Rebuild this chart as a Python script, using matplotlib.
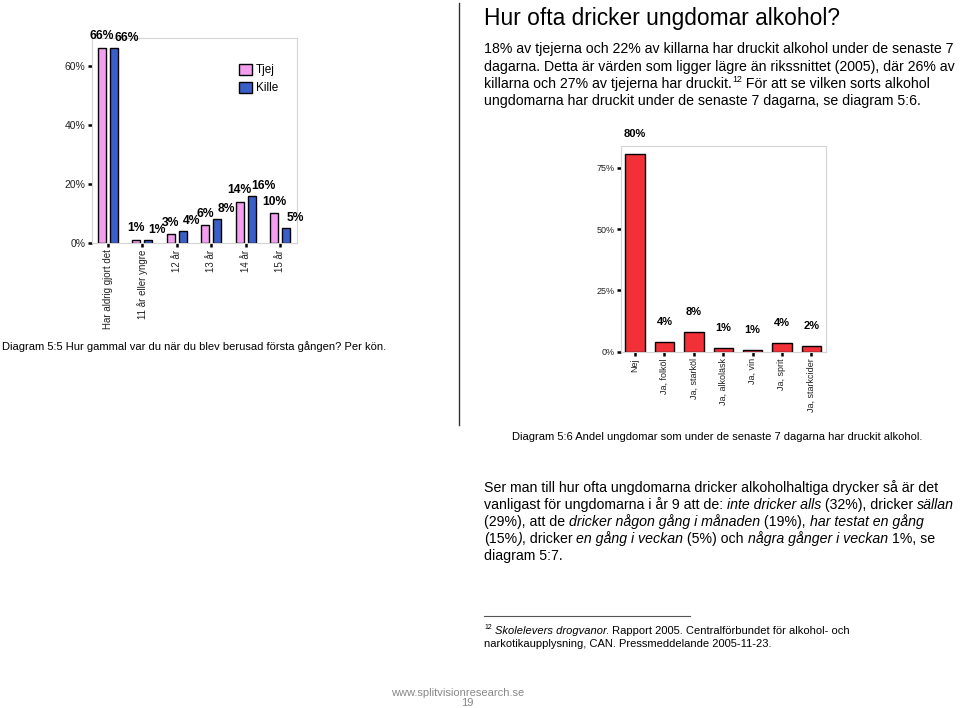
import matplotlib
matplotlib.use('Agg')
import matplotlib.pyplot as plt
from matplotlib.patches import Patch
from matplotlib.lines import Line2D

plt.rcParams['font.family'] = ['Liberation Sans', 'DejaVu Sans']

W, H = 960, 708

# Diagram 5:5 - age when first drunk, per gender (%)
ages = ['Har aldrig gjort det', '11 år eller yngre', '12 år', '13 år', '14 år', '15 år']
tjej = [66, 1, 3, 6, 14, 10]
kille = [66, 1, 4, 8, 16, 5]

# Diagram 5:6 - drank alcohol during last 7 days (%)
drinks = ['Nej', 'Ja, folköl', 'Ja, starköl', 'Ja, alkoläsk', 'Ja, vin', 'Ja, sprit', 'Ja, starkcider']
share = [80.5, 4.0, 7.9, 1.4, 0.7, 3.5, 2.3]
share_labels = ['80%', '4%', '8%', '1%', '1%', '4%', '2%']

PINK = '#f49ef0'
BLUE = '#3a5fc8'
RED = '#f23038'

fig = plt.figure(figsize=(W / 100, H / 100), dpi=100)


def fx(x):
    return x / W


def fy(y):
    return 1 - y / H


def style_axes(ax, ysize, xsize):
    for s in ax.spines.values():
        s.set_color('#d4d4d4')
        s.set_linewidth(0.8)
    ax.tick_params(axis='both', length=3.2, width=1.8, color='black',
                   labelcolor='#222222', pad=1.5)
    ax.tick_params(axis='y', labelsize=ysize)
    ax.tick_params(axis='x', labelsize=xsize, labelrotation=90)


# ---------------- chart 1 ----------------
ax1 = fig.add_axes([fx(92), fy(243), 205 / W, 205 / H])
x = list(range(len(ages)))
bw = 0.23
off = 0.175
ax1.bar([i - off for i in x], tjej, bw, color=PINK, edgecolor='black', linewidth=1)
ax1.bar([i + off for i in x], kille, bw, color=BLUE, edgecolor='black', linewidth=1)
for i in x:
    ax1.annotate(f'{tjej[i]}%', (i - off, tjej[i]), xytext=(0, 4), textcoords='offset points',
                 ha='center', va='bottom', fontsize=8.7, fontweight='bold')
    ax1.annotate(f'{kille[i]}%', (i + off, kille[i]), xytext=(0, 3), textcoords='offset points',
                 ha='left', va='bottom', fontsize=8.7, fontweight='bold')
ax1.set_xlim(-0.465, 5.49)
ax1.set_ylim(0, 69.3)
ax1.set_yticks([0, 20, 40, 60])
ax1.set_yticklabels(['0%', '20%', '40%', '60%'])
ax1.set_xticks(x)
ax1.set_xticklabels(ages)
style_axes(ax1, 7.5, 7)
handles = [Patch(facecolor=PINK, edgecolor='black', linewidth=1, label='Tjej'),
           Patch(facecolor=BLUE, edgecolor='black', linewidth=1, label='Kille')]
ax1.legend(handles=handles, loc='upper left', bbox_to_anchor=(0.715, 0.875), frameon=False,
           fontsize=8.5, handlelength=1.1, handleheight=1.1, labelspacing=0.45,
           handletextpad=0.35, borderpad=0, borderaxespad=0)

# ---------------- chart 2 ----------------
ax2 = fig.add_axes([fx(621), fy(351.7), 205 / W, 206 / H])
x2 = list(range(len(drinks)))
ax2.bar(x2, share, 0.66, color=RED, edgecolor='black', linewidth=1)
for i in x2:
    ax2.annotate(share_labels[i], (i, share[i]), xytext=(0, 14.4), textcoords='offset points',
                 ha='center', va='center', fontsize=8, fontweight='bold')
ax2.set_xlim(-0.48, 6.5)
ax2.set_ylim(0, 84)
ax2.set_yticks([0, 25, 50, 75])
ax2.set_yticklabels(['0%', '25%', '50%', '75%'])
ax2.set_xticks(x2)
ax2.set_xticklabels(drinks)
style_axes(ax2, 6.5, 6.5)

# ---------------- page text ----------------
renderer = fig.canvas.get_renderer()


def text_width(s, **kw):
    t = fig.text(0, 0, 'x' + s + 'x', **kw)
    t2 = fig.text(0, 0, 'xx', **kw)
    w = t.get_window_extent(renderer).width - t2.get_window_extent(renderer).width
    t.remove()
    t2.remove()
    return w


def draw_runs(x, y, parts, size, color='black'):
    for s, st in parts:
        kw = dict(fontsize=size, color=color)
        dy = 0
        if st == 'i':
            kw['style'] = 'italic'
        if st == 'sup':
            kw['fontsize'] = size * 0.62
            dy = size * 0.42 * 100 / 72
        fig.text(fx(x), fy(y - dy), s, va='baseline', ha='left', **kw)
        x += text_width(s, **kw)


fig.text(fx(484), fy(25), 'Hur ofta dricker ungdomar alkohol?', fontsize=16.4, va='baseline')

para1 = [
    [('18% av tjejerna och 22% av killarna har druckit alkohol under de senaste 7', 'n')],
    [('dagarna. Detta är värden som ligger lägre än rikssnittet (2005), där 26% av', 'n')],
    [('killarna och 27% av tjejerna har druckit.', 'n'), ('12', 'sup'),
     (' För att se vilken sorts alkohol', 'n')],
    [('ungdomarna har druckit under de senaste 7 dagarna, se diagram 5:6.', 'n')],
]
for k, line in enumerate(para1):
    draw_runs(484, 53.5 + k * 17.2, line, 10.2)

para2 = [
    [('Ser man till hur ofta ungdomarna dricker alkoholhaltiga drycker så är det', 'n')],
    [('vanligast för ungdomarna i år 9 att de: ', 'n'), ('inte dricker alls', 'i'),
     (' (32%), dricker ', 'n'), ('sällan', 'i')],
    [('(29%), att de ', 'n'), ('dricker någon gång i månaden', 'i'), (' (19%), ', 'n'),
     ('har testat en gång', 'i')],
    [('(15%', 'n'), (')', 'i'), (', dricker ', 'n'), ('en gång i veckan', 'i'), (' (5%) och ', 'n'),
     ('några gånger i veckan', 'i'), (' 1%, se', 'n')],
    [('diagram 5:7.', 'n')],
]
for k, line in enumerate(para2):
    draw_runs(484, 492.3 + k * 16.85, line, 10.2)

fig.text(fx(2), fy(350), 'Diagram 5:5 Hur gammal var du när du blev berusad första gången? Per kön.',
         fontsize=8, va='baseline')
fig.text(fx(512), fy(440.5), 'Diagram 5:6 Andel ungdomar som under de senaste 7 dagarna har druckit alkohol.',
         fontsize=8, va='baseline')

# footnote
fig.add_artist(Line2D([fx(484), fx(690)], [fy(616), fy(616)], color='#555555', linewidth=0.8))
draw_runs(484, 634, [('12', 'sup'), (' ', 'n'), ('Skolelevers drogvanor', 'i'),
                     ('. Rapport 2005. Centralförbundet för alkohol- och', 'n')], 8)
draw_runs(484, 646.7, [('narkotikaupplysning, CAN. Pressmeddelande 2005-11-23.', 'n')], 8)

# divider and footer
fig.add_artist(Line2D([fx(459), fx(459)], [fy(3), fy(425)], color='#333333', linewidth=1))
fig.text(fx(458), fy(696.5), 'www.splitvisionresearch.se', fontsize=8, color='#888888',
         ha='center', va='baseline')
fig.text(fx(467), fy(706.5), '19', fontsize=8, color='#888888', ha='center', va='baseline')

fig.savefig('out.png', dpi=100)
